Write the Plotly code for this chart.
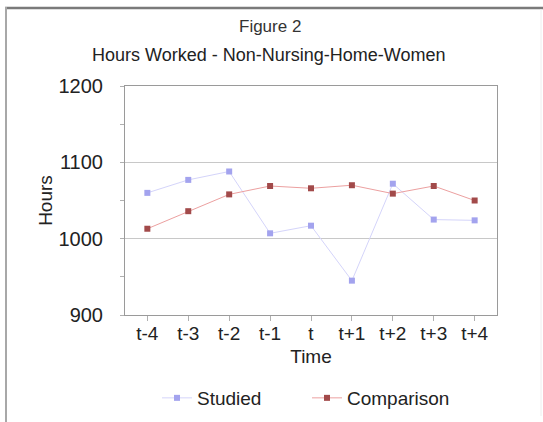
import plotly.graph_objects as go

categories = ["t-4", "t-3", "t-2", "t-1", "t", "t+1", "t+2", "t+3", "t+4"]
studied = [1060, 1077, 1088, 1007, 1017, 945, 1072, 1025, 1024]
comparison = [1013, 1036, 1058, 1069, 1066, 1070, 1059, 1069, 1050]
y_ticks = [900, 1000, 1100, 1200]

W, H = 543, 422
L, R, T, B = 125, 46, 86, 107
pw, ph = W - L - R, H - T - B

def px(x):
    return (x - L) / pw

def py(y):
    return (H - B - y) / ph

FONT = "Liberation Sans, Arial, sans-serif"

fig = go.Figure()
fig.add_trace(go.Scatter(
    x=categories, y=studied, name="Studied", mode="lines+markers",
    line=dict(color="#d4d4fa", width=1),
    marker=dict(symbol="square", size=6, color="#a3a3ee"),
))
fig.add_trace(go.Scatter(
    x=categories, y=comparison, name="Comparison", mode="lines+markers",
    line=dict(color="#eca0a0", width=1),
    marker=dict(symbol="square", size=6, color="#a24a4a"),
))

fig.update_layout(
    width=W, height=H,
    margin=dict(l=L, r=R, t=T, b=B, autoexpand=False),
    paper_bgcolor="white", plot_bgcolor="white",
    font=dict(family=FONT, size=19, color="#222222"),
    showlegend=True,
    legend=dict(orientation="h", x=px(157), xanchor="left", y=py(398), yanchor="middle",
                font=dict(size=19, color="#222222"), itemwidth=30, tracegroupgap=0,
                entrywidth=105, entrywidthmode="pixels",
                bgcolor="rgba(0,0,0,0)"),
    xaxis=dict(
        type="category", showgrid=False, showline=True, linecolor="#9a9a9a", linewidth=1,
        mirror=True, ticks="outside", ticklen=5, tickcolor="#b0b0b0",
        ticklabelstandoff=-4,
        title=dict(text="Time", standoff=6, font=dict(size=19)),
        tickfont=dict(size=19),
    ),
    yaxis=dict(
        range=[900, 1200], tickvals=y_ticks, showgrid=True, gridcolor="#c8c8c8", gridwidth=1,
        showline=True, linecolor="#9a9a9a", linewidth=1, mirror=True,
        ticks="outside", ticklen=4, tickcolor="#b0b0b0", ticklabelstandoff=13,
        minor=dict(dtick=50, ticks="outside", ticklen=4, tickcolor="#b0b0b0", showgrid=False),
        zeroline=False,
        title=dict(text="Hours", standoff=0, font=dict(size=19)),
        tickfont=dict(size=20),
    ),
    annotations=[
        dict(text="Figure 2", xref="paper", yref="paper", x=px(270), y=py(27),
             showarrow=False, xanchor="center", yanchor="middle",
             font=dict(size=17, family=FONT, color="#333333")),
        dict(text="Hours Worked - Non-Nursing-Home-Women", xref="paper", yref="paper",
             x=px(268), y=py(55), showarrow=False, xanchor="center", yanchor="middle",
             font=dict(size=18, family=FONT, color="#222222")),
    ],
    shapes=[
        dict(type="line", xref="paper", yref="paper", x0=px(5), x1=px(543), y0=py(8), y1=py(8),
             line=dict(color="#7a7a7a", width=2.5)),
        dict(type="line", xref="paper", yref="paper", x0=px(6), x1=px(6), y0=py(7), y1=py(422),
             line=dict(color="#a8a8a8", width=2)),
        dict(type="line", xref="paper", yref="paper", x0=px(541), x1=px(541), y0=py(9), y1=py(416),
             line=dict(color="#eeeeee", width=1)),
    ],
)

fig.write_html("out.html", config={"displayModeBar": False},
               post_script="document.body.style.margin='0';")
